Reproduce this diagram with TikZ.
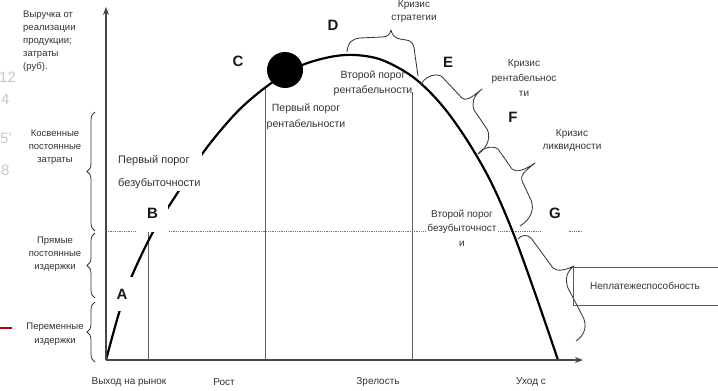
\documentclass[tikz,border=0pt]{standalone}
\usepackage{fontspec}
\setmainfont{Liberation Sans}
\usetikzlibrary{decorations.pathreplacing,arrows.meta}
\definecolor{txt}{HTML}{333333}
\definecolor{ghost}{HTML}{C8C8C8}
\definecolor{redline}{HTML}{C00000}
\begin{document}
\begin{tikzpicture}[x=1pt,y=-1pt,
  axis/.style={draw=black!72, line width=1.3pt},
  vline/.style={draw=black!62, line width=0.9pt},
  dots/.style={draw=black!55, densely dotted, line width=0.8pt},
  lbl/.style={text=txt, align=center, inner sep=1pt},
  fnine/.style={font=\fontsize{9.5}{13}\selectfont},
  ften/.style={font=\fontsize{10}{14.5}\selectfont},
  big/.style={font=\fontsize{15}{15}\selectfont\bfseries, text=black!90, inner sep=1pt},
  brc/.style={draw=black!78, line width=0.8pt, decorate},
  cbrace/.style={draw=black!78, line width=0.85pt, line join=round},
  wbox/.style={fill=white},
]
\useasboundingbox (0,0) rectangle (718,391);
\fill[white] (0,0) rectangle (718,391);

% ghost digits at the left edge
\begin{scope}
\clip (0,0) rectangle (14,391);
\node[text=ghost, font=\fontsize{15}{15}\selectfont, anchor=west, inner sep=0] (g1) at (-1,77) {12};
\node[text=ghost, font=\fontsize{15}{15}\selectfont, anchor=west, inner sep=0] (g2) at (1,99) {4};
\node[text=ghost, font=\fontsize{15}{15}\selectfont, anchor=west, inner sep=0] (g3) at (0,138) {5'};
\node[text=ghost, font=\fontsize{15}{15}\selectfont, anchor=west, inner sep=0] (g4) at (1,170) {8};
\end{scope}
\coordinate (r0) at (0,328);
\coordinate (r1) at (12,328);
\draw[redline, line width=1.5pt] (r0) -- (r1);

% coordinates
\coordinate (O) at (106,360);
\coordinate (Ytop) at (106,7);
\coordinate (Xend) at (583,360);
\coordinate (d0) at (106,231);
\coordinate (d1) at (582,231);
\coordinate (v1t) at (148,231);
\coordinate (v1b) at (148,360);
\coordinate (v2t) at (265,88);
\coordinate (v2b) at (265,360);
\coordinate (v3t) at (412,92);
\coordinate (v3b) at (412,360);

% grid lines
\draw[dots] (d0) -- (d1);
\draw[vline] (v1t) -- (v1b);
\draw[vline] (v2t) -- (v2b);
\draw[vline] (v3t) -- (v3b);

% life-cycle curve
\draw[line width=2.2pt, black] plot[smooth, tension=0.55] coordinates {
  (106,360) (119,313) (131,278) (153,232) (180,189) (205,150) (238,111)
  (270,84) (300,66) (330,57) (355,55) (382,60) (413,77) (440,103)
  (465,137) (490,180) (512,230) (535,293) (558,360)};
\node[circle, fill=black, minimum size=36pt, inner sep=0] (peak) at (285,70) {};

% braces on the right (drawn as curly brackets)
\draw[cbrace] (347,52) .. controls (348,42) and (352,39) .. (360,38) -- (382,37)
  .. controls (388,37) and (390,34) .. (391,30) .. controls (392,35) and (395,38) .. (400,39)
  -- (406,40) .. controls (413,41) and (414,45) .. (415,55) -- (418,76);
\draw[cbrace] (421,84) .. controls (425,78) and (430,75) .. (436,75)
  .. controls (440,75) and (442,76) .. (445,80) -- (462,98)
  .. controls (466,101) and (470,99) .. (482,89)
  .. controls (472,97) and (472,104) .. (474,110) -- (487,129)
  .. controls (491,136) and (488,148) .. (478,154);
\draw[cbrace] (478,154) .. controls (482,148) and (492,145) .. (498,149) -- (512,169)
  .. controls (516,173) and (525,170) .. (535,163)
  .. controls (524,172) and (520,175) .. (522,181) -- (531,200)
  .. controls (535,210) and (530,220) .. (520,226);
\draw[cbrace] (518,239) .. controls (521,235) and (527,234) .. (531,238) -- (553,268)
  .. controls (557,272) and (566,270) .. (574,266)
  .. controls (566,272) and (565,280) .. (568,288) -- (582,315)
  .. controls (588,325) and (585,335) .. (576,341);

% braces on the left
\coordinate (lk1) at (95,231);
\coordinate (lk2) at (95,112);
\draw[brc, decoration={brace, amplitude=8pt}] (lk1) -- (lk2);
\coordinate (lp1) at (95,298);
\coordinate (lp2) at (95,233);
\draw[brc, decoration={brace, amplitude=8pt}] (lp1) -- (lp2);
\coordinate (lv1) at (95,362);
\coordinate (lv2) at (95,302);
\draw[brc, decoration={brace, amplitude=8pt}] (lv1) -- (lv2);

% axes
\draw[axis, -{Stealth[length=8pt,width=6pt]}] (O) -- (Ytop);
\draw[axis, -{Stealth[length=8pt,width=6pt]}] (O) -- (Xend);

% letters
\node[big, wbox, minimum width=28pt, minimum height=34pt] (A) at (122,294) {A};
\node[big, wbox, minimum width=31pt, minimum height=37pt] (B) at (152.5,213.5) {B};
\node[big] (C) at (238,61) {C};
\node[big] (D) at (333,25) {D};
\node[big, wbox, minimum width=16pt, minimum height=22pt] (E) at (448,62) {E};
\node[big] (F) at (513,117) {F};
\node[big, wbox, minimum width=28pt, minimum height=38pt] (G) at (555,213) {G};

% left labels
\node[lbl, fnine, align=left, anchor=west] (rev) at (22,41)
  {Выручка от\\реализации\\продукции;\\затраты\\(руб).};
\node[lbl, fnine] (kos) at (55,147) {Косвенные\\постоянные\\затраты};
\node[lbl, fnine] (pry) at (55,254) {Прямые\\постоянные\\издержки};
\node[lbl, fnine, font=\fontsize{9.5}{14}\selectfont] (per) at (55,334) {Переменные\\издержки};

% curve labels
\node[lbl, wbox, align=left, anchor=west, font=\fontsize{11}{23}\selectfont, inner sep=2pt] (pb) at (116,172)
  {Первый порог\\безубыточности};
\node[lbl, wbox, font=\fontsize{10.5}{16}\selectfont] (pr) at (306,117) {Первый порог\\рентабельности};
\node[lbl, font=\fontsize{10.5}{15}\selectfont] (vr) at (373,83) {Второй порог\\рентабельности};
\node[lbl, font=\fontsize{10}{13}\selectfont] (ks) at (414,12) {Кризис\\стратегии};
\node[lbl, font=\fontsize{10}{15}\selectfont] (kr) at (524,78) {Кризис\\рентабельнос\\ти};
\node[lbl, font=\fontsize{10}{13}\selectfont] (kl) at (572,141) {Кризис\\ликвидности};
\node[lbl, wbox, font=\fontsize{10}{14.5}\selectfont] (vb) at (462,228) {Второй порог\\безубыточност\\и};

% insolvency box
\node[draw=black!65, line width=0.9pt, minimum width=150pt, minimum height=38pt, anchor=north west,
      inner sep=0] (np) at (573,267) {};
\node[lbl, ften] (npt) at (645,286) {Неплатежеспособность};

% bottom labels
\node[lbl, ften] (s1) at (129,382) {Выход на рынок};
\node[lbl, ften] (s2) at (224,382) {Рост};
\node[lbl, ften] (s3) at (378,382) {Зрелость};
\node[lbl, ften] (s4) at (531,382) {Уход с};
\end{tikzpicture}
\end{document}
